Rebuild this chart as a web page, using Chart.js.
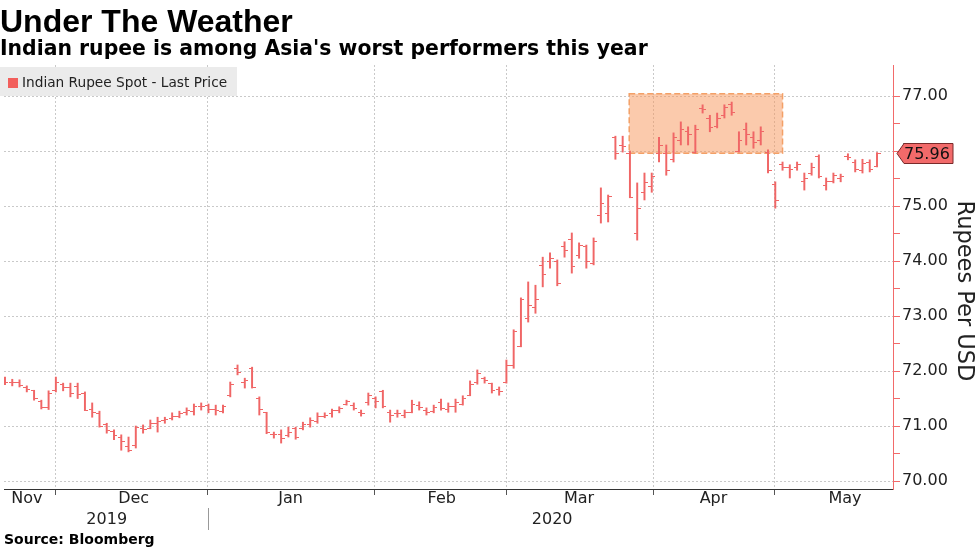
<!DOCTYPE html>
<html>
<head>
<meta charset="utf-8">
<script src="https://cdn.jsdelivr.net/npm/chart.js@4.4.1/dist/chart.umd.min.js"></script>
<style>
  body { margin: 0; background: #fff; }
  #wrap { position: relative; width: 977px; height: 549px; overflow: hidden; color: #000; }
  #chart { position: absolute; left: 0; top: 0; }
  .title { position: absolute; left: 0; top: 5px; font: bold 32px/32px 'Liberation Sans', Arial, sans-serif; white-space: nowrap; }
  .subtitle { position: absolute; left: 0; top: 38px; font: bold 20.4px/20px 'DejaVu Sans', sans-serif; white-space: nowrap; }
  .legend { position: absolute; left: 0; top: 67px; width: 237px; height: 29px; background: #ebebeb; }
  .legend .box { position: absolute; left: 8px; top: 11px; width: 10px; height: 10px; background: #f25f5c; }
  .legend .txt { position: absolute; left: 22px; top: 1px; font: 13.7px 'DejaVu Sans', sans-serif; line-height: 29px; color: #222; white-space: nowrap; }
  .source { position: absolute; left: 4px; top: 532px; font: bold 14px/14px 'DejaVu Sans', sans-serif; white-space: nowrap; }
</style>
</head>
<body>
<div id="wrap">
  <canvas id="chart" width="977" height="549"></canvas>
  <div class="title">Under The Weather</div>
  <div class="subtitle">Indian rupee is among Asia's worst performers this year</div>
  <div class="legend"><span class="box"></span><span class="txt">Indian Rupee Spot - Last Price</span></div>
  <div class="source">Source: Bloomberg</div>
</div>
<script>
// daily bars, 21 Nov 2019 .. 22 May 2020 (trading days)
const openPrices = [71.84,71.80,71.80,71.70,71.64,71.44,71.33,71.64,71.76,71.70,71.72,71.60,71.30,71.22,71.02,70.90,70.80,70.62,70.64,70.95,70.96,71.05,71.10,71.14,71.18,71.24,71.27,71.36,71.38,71.30,71.26,71.55,72.05,71.80,72.04,71.50,71.25,70.85,70.84,70.82,70.95,70.96,71.02,71.08,71.18,71.22,71.28,71.40,71.38,71.25,71.42,71.50,71.62,71.25,71.22,71.20,71.25,71.38,71.28,71.27,71.42,71.30,71.36,71.40,71.55,71.80,71.86,71.78,71.66,71.80,72.10,72.45,72.95,73.15,73.92,74.00,74.00,74.27,74.40,74.10,74.27,73.95,74.82,74.87,76.25,76.10,75.95,74.50,75.25,75.35,75.95,75.96,75.85,76.20,76.35,75.98,76.78,76.60,76.45,76.65,76.85,76.00,76.40,76.25,76.20,75.98,75.40,75.75,75.70,75.70,75.45,75.60,75.90,75.38,75.45,75.50,75.90,75.80,75.65,75.80,75.72];
const highPrices = [71.89,71.85,71.84,71.73,71.65,71.47,71.64,71.89,71.78,71.78,71.78,71.62,71.42,71.27,71.05,70.93,70.84,70.80,71.00,71.02,71.11,71.16,71.16,71.24,71.27,71.33,71.40,71.42,71.40,71.38,71.38,71.80,72.11,71.87,72.07,71.53,71.25,70.89,70.93,70.98,70.98,71.07,71.15,71.24,71.24,71.31,71.35,71.47,71.42,71.29,71.60,71.53,71.65,71.29,71.29,71.29,71.47,71.44,71.33,71.38,71.49,71.42,71.49,71.55,71.82,72.02,71.89,71.78,71.71,72.20,72.75,73.33,73.62,73.56,74.07,74.15,74.02,74.35,74.51,74.33,74.29,74.42,75.33,75.20,76.27,76.27,76.00,75.42,75.60,75.60,76.25,76.11,76.33,76.53,76.44,76.47,76.84,76.65,76.69,76.84,76.89,76.35,76.51,76.35,76.44,76.02,75.44,75.80,75.75,75.80,75.60,75.78,75.93,75.51,75.60,75.58,75.95,75.84,75.85,75.84,75.97];
const lowPrices = [71.75,71.73,71.71,71.62,71.47,71.31,71.30,71.62,71.64,71.53,71.50,71.28,71.16,70.98,70.87,70.75,70.56,70.53,70.60,70.87,70.95,70.89,71.05,71.11,71.15,71.20,71.20,71.29,71.24,71.20,71.24,71.53,71.93,71.69,71.69,71.20,70.86,70.78,70.69,70.80,70.76,70.93,70.98,71.05,71.15,71.16,71.24,71.38,71.29,71.18,71.38,71.33,71.33,71.07,71.16,71.15,71.24,71.29,71.20,71.24,71.29,71.25,71.25,71.38,71.55,71.76,71.78,71.60,71.56,71.78,72.05,72.44,72.89,73.05,73.53,73.87,73.55,74.07,73.78,74.05,73.87,73.93,74.69,74.71,75.85,75.98,75.15,74.38,75.11,75.25,75.80,75.56,75.80,76.11,76.11,75.96,76.69,76.35,76.42,76.60,76.65,75.98,76.11,76.05,76.11,75.60,74.96,75.65,75.51,75.65,75.29,75.56,75.51,75.29,75.42,75.44,75.84,75.62,75.60,75.62,75.71];
const closePrices = [71.80,71.80,71.74,71.66,71.50,71.34,71.60,71.80,71.70,71.60,71.58,71.29,71.24,71.00,70.92,70.82,70.72,70.55,70.98,70.93,71.05,71.08,71.12,71.18,71.22,71.28,71.36,71.35,71.30,71.28,71.36,71.75,71.98,71.82,71.70,71.30,70.88,70.84,70.78,70.88,70.80,71.03,71.10,71.18,71.20,71.28,71.31,71.44,71.32,71.22,71.55,71.45,71.35,71.20,71.22,71.24,71.40,71.33,71.25,71.34,71.32,71.35,71.42,71.50,71.75,71.95,71.82,71.65,71.62,72.10,72.72,73.30,73.20,73.30,73.75,74.05,73.60,74.20,73.90,74.28,74.00,74.35,75.04,75.18,75.95,76.08,75.15,74.95,75.42,75.53,76.10,75.65,76.25,76.40,76.30,76.40,76.75,76.42,76.60,76.80,76.70,76.20,76.30,76.15,76.35,75.65,75.10,75.70,75.66,75.76,75.50,75.70,75.53,75.45,75.55,75.53,75.88,75.67,75.78,75.66,75.96];

// x axis: month labels and month starts, in bar positions
const monthLabels = ['Nov', 'Dec', 'Jan', 'Feb', 'Mar', 'Apr', 'May'];
const monthLabelAt = [3.0, 17.7, 39.3, 60.1, 79.0, 97.5, 115.6];
const monthStartAt = [7, 27.9, 50.8, 69, 89.2, 105.9];
const yearLabels = ['2019', '2020'];
const yearLabelAt = [14.0, 75.3];
const yearBreakAt = 27.9;
const yTickValues = [70, 70.5, 71, 71.5, 72, 72.5, 73, 73.5, 74, 74.5, 75, 75.5, 76, 76.5, 77];
const yTitle = 'Rupees Per USD';

// shaded box over the April range
const boxFrom = 85.9, boxTo = 107.0, boxLow = 75.96, boxHigh = 77.04;

const xMin = -0.137, xMax = 122.2;
const yMin = 69.855, yMax = 77.564;
const barColor = '#f06666';

function tickImage(side) {
    const c = document.createElement('canvas');
    c.width = 7;
    c.height = 1;
    const g = c.getContext('2d');
    g.fillStyle = barColor;
    g.fillRect(side === 'left' ? 0 : 4, 0, 3, 1);
    return c;
}

const rangeData = highPrices.map((h, i) => ({ x: i, y: [lowPrices[i], h] }));
const openData = openPrices.map((v, i) => ({ x: i, y: v }));
const closeData = closePrices.map((v, i) => ({ x: i, y: v }));

const highlightBox = {
    id: 'highlightBox',
    beforeDatasetsDraw(chart) {
        const { ctx, scales: { x, y } } = chart;
        const left = x.getPixelForValue(boxFrom);
        const right = x.getPixelForValue(boxTo);
        const top = y.getPixelForValue(boxHigh);
        const bottom = y.getPixelForValue(boxLow);
        ctx.save();
        ctx.fillStyle = 'rgba(247,150,90,0.5)';
        ctx.fillRect(left, top, right - left, bottom - top);
        ctx.setLineDash([6, 3]);
        ctx.strokeStyle = '#f3a067';
        ctx.lineWidth = 1.5;
        ctx.strokeRect(left, top, right - left, bottom - top);
        ctx.restore();
    }
};

const lastTag = {
    id: 'lastTag',
    afterDraw(chart) {
        const { ctx, chartArea, scales } = chart;
        const last = closePrices[closePrices.length - 1];
        const py = Math.round(scales.y.getPixelForValue(last)) + 0.5;
        const x0 = chartArea.right + 4;
        ctx.save();
        ctx.beginPath();
        ctx.moveTo(x0, py);
        ctx.lineTo(x0 + 7, py - 10);
        ctx.lineTo(x0 + 56, py - 10);
        ctx.lineTo(x0 + 56, py + 10);
        ctx.lineTo(x0 + 7, py + 10);
        ctx.closePath();
        ctx.fillStyle = '#f26a6a';
        ctx.fill();
        ctx.strokeStyle = '#7a2a2a';
        ctx.lineWidth = 1;
        ctx.stroke();
        ctx.fillStyle = '#111';
        ctx.font = '16px "DejaVu Sans"';
        ctx.textBaseline = 'middle';
        ctx.textAlign = 'left';
        ctx.fillText(last.toFixed(2), x0 + 7, py + 1);

        // year separator under the month row
        const sx = Math.round(scales.x.getPixelForValue(yearBreakAt)) + 0.5;
        ctx.beginPath();
        ctx.moveTo(sx, scales.xYears.top - 2);
        ctx.lineTo(sx, scales.xYears.top + 20);
        ctx.strokeStyle = '#999';
        ctx.stroke();

        // axis title, reading downwards
        ctx.translate(964, 291);
        ctx.rotate(Math.PI / 2);
        ctx.fillStyle = '#222';
        ctx.font = '22.5px "DejaVu Sans"';
        ctx.textAlign = 'center';
        ctx.fillText(yTitle, 0, 0);
        ctx.restore();
    }
};

const labelFont = { family: 'DejaVu Sans', size: 16 };

new Chart(document.getElementById('chart'), {
    type: 'line',
    data: {
        datasets: [
            {
                type: 'bar',
                data: rangeData,
                backgroundColor: barColor,
                borderWidth: 0,
                barThickness: 1.3
            },
            {
                type: 'line',
                data: openData,
                showLine: false,
                pointStyle: tickImage('left'),
                pointRadius: 3,
                pointHoverRadius: 3
            },
            {
                type: 'line',
                data: closeData,
                showLine: false,
                pointStyle: tickImage('right'),
                pointRadius: 3,
                pointHoverRadius: 3
            }
        ]
    },
    options: {
        responsive: false,
        devicePixelRatio: 1,
        animation: false,
        events: [],
        layout: { padding: { top: 65, left: 0, right: 0, bottom: 18 } },
        plugins: { legend: { display: false }, tooltip: { enabled: false } },
        scales: {
            x: {
                type: 'linear', position: 'bottom', min: xMin, max: xMax, offset: false, weight: 0,
                afterBuildTicks: s => { s.ticks = monthStartAt.map(v => ({ value: v })); },
                afterFit: s => { s.height = 0; },
                grid: { color: '#c9c9c9', tickColor: '#555', tickLength: 6, offset: false },
                border: { color: '#333', dash: [2, 2] },
                ticks: { display: false }
            },
            xMonths: {
                type: 'linear', position: 'bottom', min: xMin, max: xMax, offset: false, weight: 1,
                afterBuildTicks: s => { s.ticks = monthLabelAt.map(v => ({ value: v })); },
                afterFit: s => { s.height = 21; },
                grid: { display: false, drawTicks: false },
                border: { display: false },
                ticks: {
                    autoSkip: false, maxRotation: 0, padding: 0, color: '#222', font: labelFont,
                    callback: (v, i) => monthLabels[i]
                }
            },
            xYears: {
                type: 'linear', position: 'bottom', min: xMin, max: xMax, offset: false, weight: 2,
                afterBuildTicks: s => { s.ticks = yearLabelAt.map(v => ({ value: v })); },
                afterFit: s => { s.height = 21; },
                grid: { display: false, drawTicks: false },
                border: { display: false },
                ticks: {
                    autoSkip: false, maxRotation: 0, padding: 0, color: '#222', font: labelFont,
                    callback: (v, i) => yearLabels[i]
                }
            },
            y: {
                type: 'linear', position: 'right', min: yMin, max: yMax,
                afterBuildTicks: s => { s.ticks = yTickValues.map(v => ({ value: v })); },
                afterFit: s => { s.width = 84; },
                grid: {
                    color: c => Number.isInteger(c.tick.value) ? '#c9c9c9' : 'rgba(0,0,0,0)',
                    tickColor: '#f26a6a',
                    tickLength: 7
                },
                border: { color: '#f26a6a', dash: [2, 2] },
                ticks: {
                    padding: 2, color: '#222', font: labelFont,
                    callback: v => Number.isInteger(v) ? v.toFixed(2) : ''
                }
            }
        }
    },
    plugins: [highlightBox, lastTag]
});
</script>
</body>
</html>
